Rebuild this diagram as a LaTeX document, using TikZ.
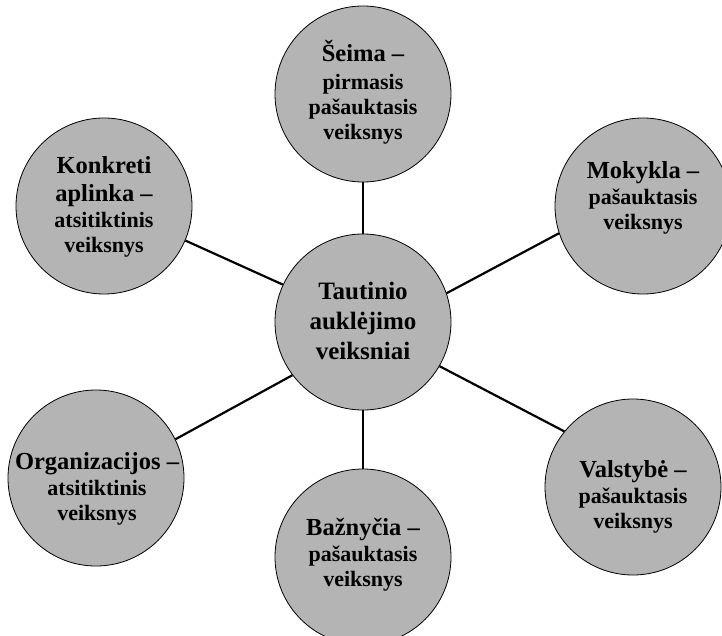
\documentclass[tikz,border=0pt]{standalone}
\usepackage{fontspec}
\setmainfont{Liberation Serif}
\definecolor{bubgray}{RGB}{180,180,180}
\newcommand{\txtL}{\fontsize{24.5}{28}\selectfont}
\newcommand{\txtS}{\fontsize{22}{25}\selectfont}
\newcommand{\txtC}{\fontsize{25}{30}\selectfont}
\tikzset{
  bub/.style={circle, draw=black, line width=0.8pt, fill=bubgray, minimum size=176pt, inner sep=0pt},
  lbl/.style={align=center, font=\bfseries\txtS, inner sep=0pt},
  conn/.style={line width=2.2pt, black}
}
\begin{document}
\begin{tikzpicture}[x=1pt,y=-1pt]
\useasboundingbox (0,0) rectangle (722,636);
\node[bub] (c) at (363,322) {};
\node[bub] (s) at (363,94) {};
\node[bub] (m) at (643,206) {};
\node[bub] (v) at (633,487) {};
\node[bub] (b) at (363,557) {};
\node[bub] (o) at (96,478) {};
\node[bub] (k) at (104,206) {};
\draw[conn] (c.90) -- (s.270);
\draw[conn] (c.270) -- (b.90);
\draw[conn] (c.19) -- (m.198);
\draw[conn] (c.-30) -- (v.141);
\draw[conn] (c.155) -- (k.-23);
\draw[conn] (c.217) -- (o.26);
\node[lbl, font=\bfseries\txtC] (ct) at (363,321) {Tautinio\\auklėjimo\\veiksniai};
\node[lbl] (st) at (363,92) {{\txtL Šeima –}\\[3pt]pirmasis\\pašauktasis\\veiksnys};
\node[lbl] (mt) at (643,198) {{\txtL Mokykla –}\\[1pt]pašauktasis\\veiksnys};
\node[lbl] (vt) at (633,497) {{\txtL Valstybė –}\\[1pt]pašauktasis\\veiksnys};
\node[lbl] (bt) at (363,555) {{\txtL Bažnyčia –}\\[1pt]pašauktasis\\veiksnys};
\node[lbl] (ot) at (97,489) {{\txtL Organizacijos –}\\[1pt]atsitiktinis\\veiksnys};
\node[lbl] (kt) at (104,207) {{\txtL Konkreti}\\[3pt]{\txtL aplinka –}\\[1pt]atsitiktinis\\veiksnys};
\end{tikzpicture}
\end{document}
